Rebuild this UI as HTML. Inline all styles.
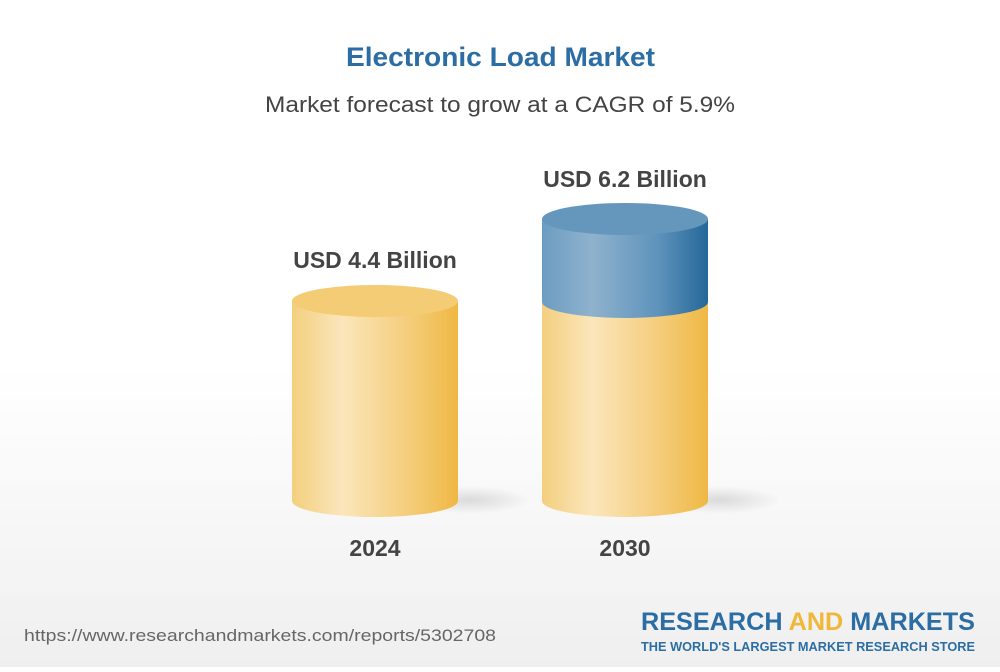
<!DOCTYPE html>
<html><head><meta charset="utf-8"><style>
body{margin:0;width:1000px;height:667px;overflow:hidden;font-family:"Liberation Sans",sans-serif;}
</style></head><body>
<svg width="1000" height="667" xmlns="http://www.w3.org/2000/svg">
<defs>
<linearGradient id="bg" x1="0" y1="0" x2="0" y2="1">
<stop offset="0" stop-color="#ffffff"/><stop offset="0.55" stop-color="#ffffff"/><stop offset="1" stop-color="#efefef"/></linearGradient>
<linearGradient id="y" x1="0" x2="1"><stop offset="0" stop-color="#f3cf7e"/><stop offset="0.3" stop-color="#fbe6bb"/><stop offset="0.7" stop-color="#f4cd7c"/><stop offset="1" stop-color="#efb844"/></linearGradient>
<linearGradient id="b" x1="0" x2="1"><stop offset="0" stop-color="#6c9cc1"/><stop offset="0.3" stop-color="#8fb2cd"/><stop offset="0.7" stop-color="#5e93bb"/><stop offset="1" stop-color="#246799"/></linearGradient>
<radialGradient id="sh" cx="0.5" cy="0.5" r="0.5"><stop offset="0" stop-color="#000" stop-opacity="0.12"/><stop offset="1" stop-color="#000" stop-opacity="0"/></radialGradient>
</defs>
<rect width="1000" height="667" fill="url(#bg)"/>
<text x="346" y="66" textLength="309" lengthAdjust="spacingAndGlyphs" font-size="27" font-weight="bold" fill="#2c6ea4">Electronic Load Market</text>
<text x="265" y="112" textLength="470" lengthAdjust="spacingAndGlyphs" font-size="22" fill="#444">Market forecast to grow at a CAGR of 5.9%</text>
<ellipse cx="470" cy="500" rx="60" ry="14" fill="url(#sh)"/>
<ellipse cx="720" cy="500" rx="60" ry="14" fill="url(#sh)"/>
<path d="M292 301 V501 A83 16 0 0 0 458 501 V301 Z" fill="url(#y)"/>
<ellipse cx="375" cy="301" rx="83" ry="16" fill="#f4cc76"/>
<path d="M542 302 V501 A83 16 0 0 0 708 501 V302 Z" fill="url(#y)"/>
<path d="M542 219 V302 A83 16 0 0 0 708 302 V219 Z" fill="url(#b)"/>
<ellipse cx="625" cy="219" rx="83" ry="16" fill="#6597bd"/>
<text x="375" y="268" text-anchor="middle" font-size="23" font-weight="bold" fill="#444">USD 4.4 Billion</text>
<text x="625" y="187" text-anchor="middle" font-size="23" font-weight="bold" fill="#444">USD 6.2 Billion</text>
<text x="375" y="556" text-anchor="middle" font-size="23" font-weight="bold" fill="#444">2024</text>
<text x="625" y="556" text-anchor="middle" font-size="23" font-weight="bold" fill="#444">2030</text>
<text x="24" y="641" textLength="472" lengthAdjust="spacingAndGlyphs" font-size="17" fill="#666">https://www.researchandmarkets.com/reports/5302708</text>
<text x="641" y="630" textLength="334" lengthAdjust="spacingAndGlyphs" font-size="25" font-weight="bold" fill="#2c6ea4">RESEARCH <tspan fill="#f0b83a">AND</tspan> MARKETS</text>
<text x="641" y="651" textLength="334" lengthAdjust="spacingAndGlyphs" font-size="12.5" font-weight="bold" fill="#2c6ea4">THE WORLD'S LARGEST MARKET RESEARCH STORE</text>
</svg>
</body></html>
